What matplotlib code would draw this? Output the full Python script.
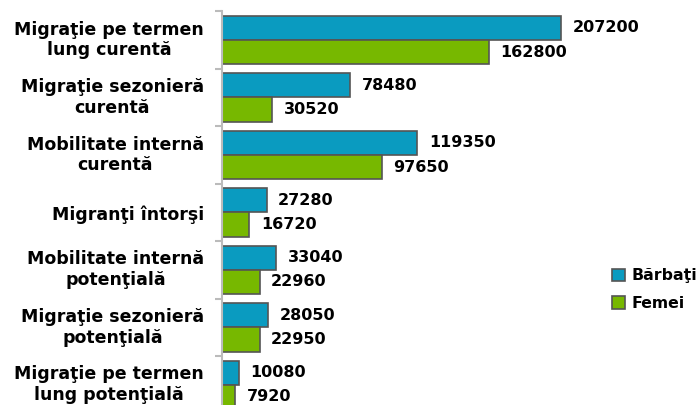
import matplotlib
matplotlib.use("Agg")
import matplotlib.pyplot as plt
import numpy as np

categories = [
    "Migraţie pe termen\nlung curentă",
    "Migraţie sezonieră\ncurentă",
    "Mobilitate internă\ncurentă",
    "Migranţi întorşi",
    "Mobilitate internă\npotenţială",
    "Migraţie sezonieră\npotenţială",
    "Migraţie pe termen\nlung potenţială",
]
barbati = [207200, 78480, 119350, 27280, 33040, 28050, 10080]
femei = [162800, 30520, 97650, 16720, 22960, 22950, 7920]
series_names = ["Bărbaţi", "Femei"]

BLUE = "#0A9BC0"
GREEN = "#77B800"
EDGE = "#555555"

plt.rcParams["font.family"] = ["DejaVu Sans"]

fig = plt.figure(figsize=(6.99, 4.05), dpi=100)
ax = fig.add_axes([222 / 699, 0.0, 442 / 699, 1 - 11.25 / 405])

y = np.arange(len(categories))
h = 0.42
b1 = ax.barh(y - h / 2, barbati, height=h, color=BLUE, edgecolor=EDGE,
             linewidth=1.2, label=series_names[0])
b2 = ax.barh(y + h / 2, femei, height=h, color=GREEN, edgecolor=EDGE,
             linewidth=1.2, label=series_names[1])

for bars, vals in ((b1, barbati), (b2, femei)):
    for bar, v in zip(bars, vals):
        ax.text(v + 7000, bar.get_y() + bar.get_height() / 2, str(v),
                va="center", ha="left", fontsize=11.5, fontweight="bold")

ax.set_xlim(0, 270000)
ax.set_ylim(6.35, -0.5)
# two-line labels sit a little above the group centre
label_pos = [i - 0.06 if "\n" in c else i for i, c in enumerate(categories)]
ax.set_yticks(label_pos)
ax.set_yticklabels(categories, fontsize=12.5, fontweight="bold", ma="center",
                   linespacing=1.2)
ax.tick_params(axis="y", length=0, pad=13)
ax.set_yticks(np.arange(-0.5, 6.5, 1.0), minor=True)
ax.tick_params(axis="y", which="minor", length=5, color="#BBBBBB", width=1.5)
ax.set_xticks([])
for s in ("top", "right", "bottom"):
    ax.spines[s].set_visible(False)
ax.spines["left"].set_color("#BBBBBB")
ax.spines["left"].set_linewidth(1.5)

leg = fig.legend(handles=[b1, b2], loc="center left",
                 bbox_to_anchor=(612 / 699, 1 - 289.5 / 405), frameon=False,
                 prop={"weight": "bold", "size": 11.3}, handlelength=0.82,
                 handleheight=0.82, handletextpad=0.4, labelspacing=0.82,
                 borderpad=0, borderaxespad=0)

fig.savefig("out.png", dpi=100)
